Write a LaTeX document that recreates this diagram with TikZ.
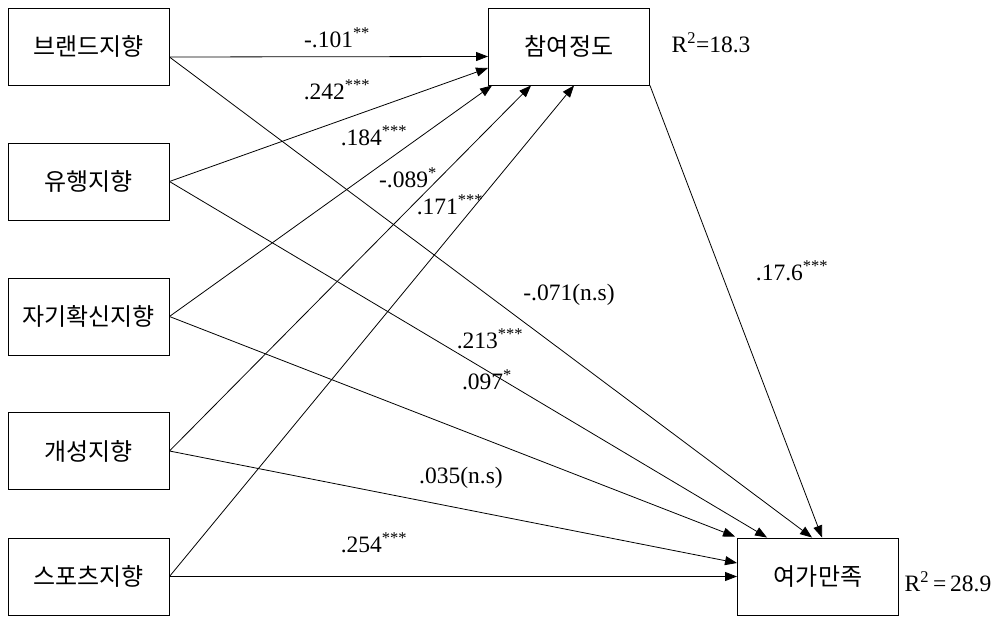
\documentclass[tikz,border=0pt]{standalone}
\usepackage{fontspec}
\setmainfont{Liberation Serif}
\newfontfamily\kr{Noto Sans CJK KR}
\usetikzlibrary{arrows.meta,calc}
\begin{document}
\begin{tikzpicture}[x=1pt,y=-1pt,
  box/.style={draw, line width=0.9pt, minimum width=161pt, minimum height=77pt, inner sep=0pt, font=\kr\fontsize{24}{28}\selectfont},
  conn/.style={line width=0.8pt, -{Triangle[length=12pt,width=9pt]}},
  lbl/.style={font=\fontsize{23.5}{27}\selectfont, inner sep=0pt}]
\useasboundingbox (0,0) rectangle (1004,617);
% boxes
\node[box] (brand) at (88.5,46.5) {브랜드지향};
\node[box] (trend) at (88.5,181.5) {유행지향};
\node[box] (self)  at (88.5,316.5) {자기확신지향};
\node[box] (indiv) at (88.5,451) {개성지향};
\node[box] (sport) at (88.5,576.5) {스포츠지향};
\node[box] (part)  at (569,46.5) {참여정도};
\node[box] (leis)  at (818,576.5) {여가만족};
% anchor points
\coordinate (bs) at ($(brand.east)+(0,10.5)$);
\coordinate (p1) at ($(part.west)+(0,10)$);
\coordinate (p2) at ($(part.west)+(0,21.5)$);
\coordinate (p3) at ($(part.south west)+(4,0)$);
\coordinate (p4) at ($(part.south west)+(43,0)$);
\coordinate (p5) at ($(part.south west)+(86,0)$);
\coordinate (l1) at ($(leis.north west)+(-2,-1)$);
\coordinate (l2) at ($(leis.north west)+(30,0)$);
\coordinate (l3) at ($(leis.north west)+(75,0)$);
\coordinate (l4) at ($(leis.north west)+(85,0)$);
\coordinate (l5) at ($(leis.west)+(0,-13.5)$);
% connectors to part
\draw[conn] (bs) -- (p1);
\draw[conn] (trend.east) -- (p2);
\draw[conn] (self.east) -- (p3);
\draw[conn] (indiv.east) -- (p4);
\draw[conn] (sport.east) -- (p5);
% connectors to leisure
\draw[conn] (bs) -- (l3);
\draw[conn] (trend.east) -- (l2);
\draw[conn] (self.east) -- (l1);
\draw[conn] (indiv.east) -- (l5);
\draw[conn] (sport.east) -- (leis.west);
\draw[conn] (part.south east) -- (l4);
% labels
\node[lbl] (c1) at (337,38) {-.101\textsuperscript{**}};
\node[lbl] (c2) at (337,90) {.242\textsuperscript{***}};
\node[lbl] (c3) at (374,136) {.184\textsuperscript{***}};
\node[lbl] (c4) at (408,178) {-.089\textsuperscript{*}};
\node[lbl] (c5) at (450,205) {.171\textsuperscript{***}};
\node[lbl] (c6) at (569,295) {-.071(n.s)};
\node[lbl] (c7) at (490,339) {.213\textsuperscript{***}};
\node[lbl] (c8) at (487,380) {.097\textsuperscript{*}};
\node[lbl] (c9) at (461,478) {.035(n.s)};
\node[lbl] (c10) at (374,543) {.254\textsuperscript{***}};
\node[lbl] (c11) at (792,271) {.17.6\textsuperscript{***}};
\node[lbl] (r1) at (711,43) {R\textsuperscript{2}=18.3};
\node[lbl] (r2) at (948,582) {R\textsuperscript{2}\,=\,28.9};
\end{tikzpicture}
\end{document}
